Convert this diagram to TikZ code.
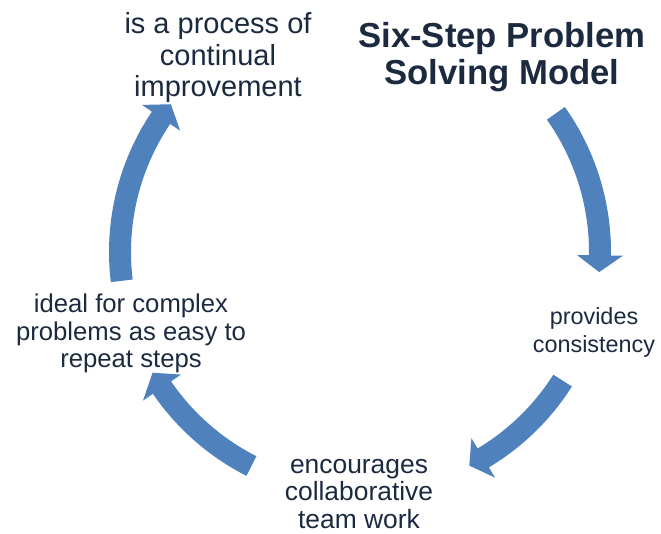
\documentclass[tikz,border=0pt]{standalone}
\usepackage{fontspec}
\setmainfont{Liberation Sans}
\usetikzlibrary{calc}
\definecolor{arrowblue}{HTML}{4F81BD}
\definecolor{txt}{HTML}{1C2A3F}
\tikzset{
  cyc/.style={fill=arrowblue, draw=none},
  lbl/.style={text=txt, align=center, inner sep=0pt, anchor=base},
  ttl/.style={text=txt, align=center, inner sep=0pt, anchor=base, font=\bfseries\fontsize{34.7}{37}\selectfont},
}
% #1 tail angle, #2 head base angle, #3 tip angle
\newcommand{\cycarrow}[3]{%
  \fill[cyc] ($(C)+(#1:251)$) arc[start angle=#1, end angle=#2, radius=251]
    -- ($(C)+(#2:263)$) -- ($(C)+(#3:240)$) -- ($(C)+(#2:217)$)
    -- ($(C)+(#2:229)$) arc[start angle=#2, end angle=#1, radius=229] -- cycle;}
\begin{document}
\begin{tikzpicture}[x=1pt,y=1pt]
\useasboundingbox (0,0) rectangle (661,533);
\coordinate (C) at (360,281);
\cycarrow{35.3}{-0.8}{-4.8}
\cycarrow{-32.4}{-59.1}{-62.9}
\cycarrow{243.1}{214.4}{210.2}
\cycarrow{186.9}{146}{142}
\node[ttl] (title) at (502,448) {Six-Step Problem\\Solving Model};
\node[lbl, font=\fontsize{29}{31.5}\selectfont] (top) at (218,436) {is a process of\\continual\\improvement};
\node[lbl, font=\fontsize{23.4}{28}\selectfont] (right) at (594,180) {provides\\consistency};
\node[lbl, font=\fontsize{26.4}{27.5}\selectfont] (bottom) at (359,5) {encourages\\collaborative\\team work};
\node[lbl, font=\fontsize{25.7}{27.5}\selectfont] (left) at (131,165) {ideal for complex\\problems as easy to\\repeat steps};
\end{tikzpicture}
\end{document}
